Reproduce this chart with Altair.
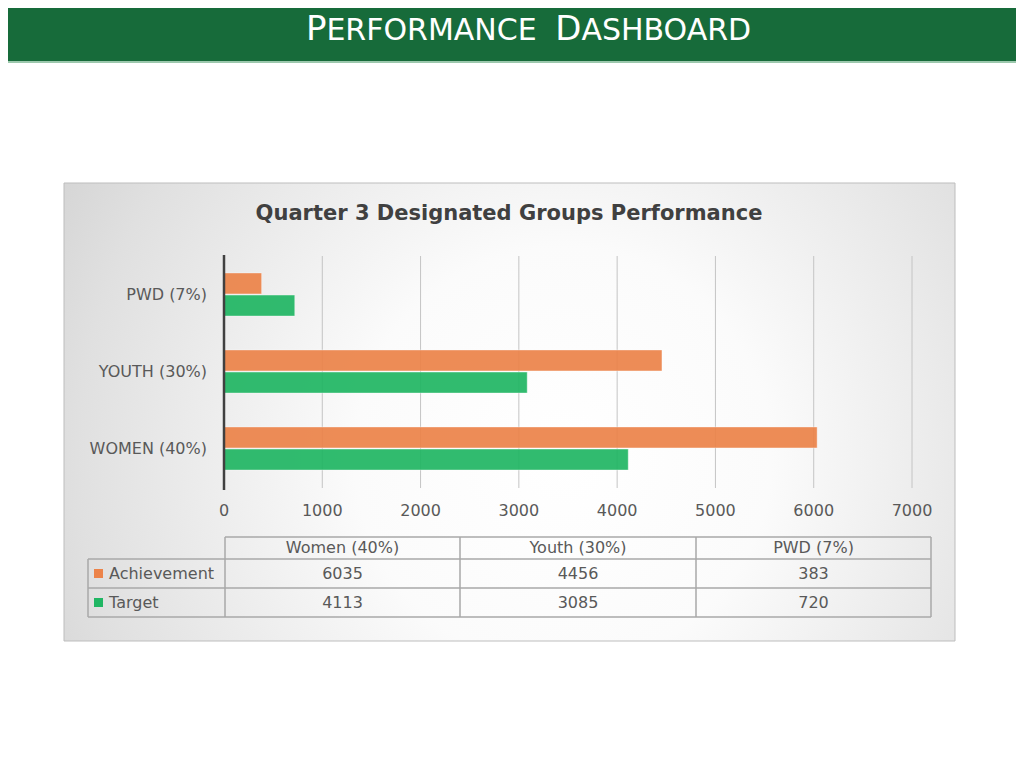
import altair as alt
import pandas as pd

# ---------------- data ----------------
chart_groups = ["WOMEN (40%)", "YOUTH (30%)", "PWD (7%)"]
table_groups = ["Women (40%)", "Youth (30%)", "PWD (7%)"]
achievement = [6035, 4456, 383]
target = [4113, 3085, 720]
series = ["Achievement", "Target"]
series_colors = ["#EC8349", "#20B663"]
x_ticks = [0, 1000, 2000, 3000, 4000, 5000, 6000, 7000]
title_text = "Quarter 3 Designated Groups Performance"

FONT = "DejaVu Sans"
TXT = "#595959"

rows = []
for cg, tg, a, t in zip(chart_groups, table_groups, achievement, target):
    rows.append({"group": cg, "tgroup": tg, "series": series[0], "value": a})
    rows.append({"group": cg, "tgroup": tg, "series": series[1], "value": t})
bars_df = pd.DataFrame(rows)
ticks_df = pd.DataFrame({"tick": x_ticks})
groups_df = pd.DataFrame({"group": chart_groups})
theader_df = pd.DataFrame({"tgroup": table_groups})
series_df = pd.DataFrame({"series": series})
one = pd.DataFrame({"a": [0]})

# scales (chart coordinates = page coordinates - 8)
X_SCALE = alt.Scale(domain=[0, 7000], range=[216, 904], nice=False)
Y_ORDER = list(reversed(chart_groups))
Y_SCALE = alt.Scale(domain=Y_ORDER, range=[248, 479], paddingInner=0.44, paddingOuter=0.22)
COL_SCALE = alt.Scale(type="point", domain=table_groups, range=[334.5, 805.5], padding=0)
ROW_SCALE = alt.Scale(type="point", domain=series, range=[565.5, 594.5], padding=0)
COLOR_SCALE = alt.Scale(domain=series, range=series_colors)

# ---------------- decorations ----------------
header = alt.Chart(one).mark_rect(fill="#176B3A").encode(
    x=alt.value(0), x2=alt.value(1008), y=alt.value(0), y2=alt.value(53))
header_line = alt.Chart(one).mark_rect(fill="#9CC8AD").encode(
    x=alt.value(0), x2=alt.value(1008), y=alt.value(53), y2=alt.value(55))

def htext(s, x, size):
    return alt.Chart(one).mark_text(
        text=s, font=FONT, fontSize=size, color="white", align="left", baseline="alphabetic"
    ).encode(x=alt.value(x), y=alt.value(32))

head_texts = [
    htext("P", 297.9, 34),
    htext("ERFORMANCE", 318.4, 30),
    htext("D", 547.2, 34),
    htext("ASHBOARD", 573.4, 30),
]

panel = alt.Chart(one).mark_rect(
    fill=alt.RadialGradient(
        gradient="radial",
        stops=[
            alt.GradientStop(color="#ffffff", offset=0),
            alt.GradientStop(color="#fbfbfb", offset=0.3),
            alt.GradientStop(color="#e0e0e0", offset=0.7),
            alt.GradientStop(color="#c6c6c6", offset=1),
        ],
        x1=0.56, y1=0.55, r1=0, x2=0.56, y2=0.55, r2=0.78,
    ),
    stroke="#bdbdbd", strokeWidth=1,
).encode(x=alt.value(56), x2=alt.value(947), y=alt.value(175), y2=alt.value(633))

title = alt.Chart(one).mark_text(
    text=title_text, font=FONT, fontSize=21, fontWeight="bold", color="#404040",
    align="center", baseline="middle",
).encode(x=alt.value(501), y=alt.value(206))

# ---------------- plot ----------------
grid = alt.Chart(ticks_df).transform_filter("datum.tick > 0").mark_rule(
    color="#c4c4c4", strokeWidth=1
).encode(x=alt.X("tick:Q", scale=X_SCALE, axis=None), y=alt.value(248), y2=alt.value(480))

bars = alt.Chart(bars_df).mark_bar(
    opacity=0.92, stroke="#ffffff", strokeWidth=0.8, strokeOpacity=0.5
).encode(
    x=alt.X("value:Q", scale=X_SCALE, axis=None),
    y=alt.Y("group:N", scale=Y_SCALE, axis=None),
    yOffset=alt.YOffset("series:N", scale=alt.Scale(domain=series, paddingInner=0.05)),
    color=alt.Color("series:N", scale=COLOR_SCALE, legend=None),
)

yaxis = alt.Chart(ticks_df).transform_filter("datum.tick == 0").mark_rule(
    color="#404040", strokeWidth=2.5
).encode(x=alt.X("tick:Q", scale=X_SCALE, axis=None), y=alt.value(247), y2=alt.value(482))

xlabels = alt.Chart(ticks_df).mark_text(
    font=FONT, fontSize=16, color=TXT, baseline="middle", align="center"
).encode(x=alt.X("tick:Q", scale=X_SCALE, axis=None), y=alt.value(502.5),
         text=alt.Text("tick:Q", format="d"))

ylabels = alt.Chart(groups_df).mark_text(
    font=FONT, fontSize=16, color=TXT, baseline="middle", align="right"
).encode(y=alt.Y("group:N", scale=Y_SCALE, axis=None), x=alt.value(199), text="group:N")

# ---------------- data table ----------------
segs = pd.DataFrame([
    {"x": 217, "x2": 923, "y": 529, "y2": 529},
    {"x": 80, "x2": 923, "y": 551, "y2": 551},
    {"x": 80, "x2": 923, "y": 580, "y2": 580},
    {"x": 80, "x2": 923, "y": 609, "y2": 609},
    {"x": 80, "x2": 80, "y": 551, "y2": 609},
    {"x": 217, "x2": 217, "y": 529, "y2": 609},
    {"x": 452, "x2": 452, "y": 529, "y2": 609},
    {"x": 688, "x2": 688, "y": 529, "y2": 609},
    {"x": 923, "x2": 923, "y": 529, "y2": 609},
])
table_lines = alt.Chart(segs).mark_rule(color="#a8a8a8", strokeWidth=1.5).encode(
    x=alt.X("x:Q", scale=None), x2="x2:Q", y=alt.Y("y:Q", scale=None), y2="y2:Q")

theader = alt.Chart(theader_df).mark_text(
    font=FONT, fontSize=16, color=TXT, baseline="middle", align="center"
).encode(x=alt.X("tgroup:N", scale=COL_SCALE, axis=None), y=alt.value(540), text="tgroup:N")

tvalues = alt.Chart(bars_df).mark_text(
    font=FONT, fontSize=16, color=TXT, baseline="middle", align="center"
).encode(
    x=alt.X("tgroup:N", scale=COL_SCALE, axis=None),
    y=alt.Y("series:N", scale=ROW_SCALE, axis=None),
    text="value:Q",
)

rowheads = alt.Chart(series_df).mark_text(
    font=FONT, fontSize=16, color=TXT, baseline="middle", align="left"
).encode(x=alt.value(101), y=alt.Y("series:N", scale=ROW_SCALE, axis=None), text="series:N")

keys = alt.Chart(series_df).mark_square(size=81, opacity=1).encode(
    x=alt.value(90.5),
    y=alt.Y("series:N", scale=ROW_SCALE, axis=None),
    color=alt.Color("series:N", scale=COLOR_SCALE, legend=None),
)

chart = alt.layer(
    header, header_line, *head_texts, panel, title,
    grid, bars, yaxis, xlabels, ylabels,
    table_lines, theader, tvalues, rowheads, keys,
).resolve_scale(
    x="independent", y="independent", color="independent"
).properties(
    width=1008, height=700, padding=0, autosize="none", background="white"
).configure_view(strokeWidth=0)

chart.save("out.html", embed_options={"renderer": "svg", "actions": False})
